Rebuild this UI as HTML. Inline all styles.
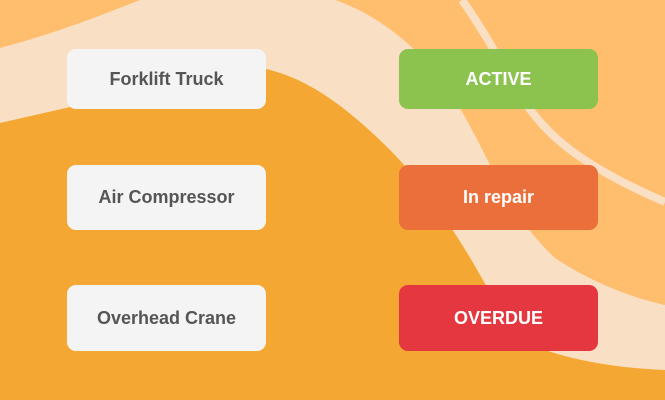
<!DOCTYPE html>
<html><head><style>
body{margin:0;width:665px;height:400px;overflow:hidden;position:relative;font-family:"Liberation Sans",sans-serif}
svg{position:absolute;left:0;top:0}
.b{position:absolute;width:199px;border-radius:9px;display:flex;align-items:center;justify-content:center;font-weight:bold;font-size:18px}
.l{left:67px;background:#f4f4f4;color:#555}
.r{left:399px;color:#fff}
</style></head><body>
<svg width="665" height="400">
<rect width="665" height="400" fill="#f5a733"/>
<path d="M0,0 L665,0 L665,370 C620,368 580,362 545,350 C520,340 500,310 480,275 C455,230 420,180 390,150 C360,120 330,95 298,80 C280,72 265,68 250,66 L0,123 Z" fill="#f9dfc3"/>
<path d="M0,0 L140,0 C100,16 50,35 0,48 Z" fill="#febe6e"/>
<path d="M335,0 L665,0 L665,305 C620,295 580,275 555,258 C530,235 510,205 490,165 C470,125 450,85 420,55 C395,30 365,10 335,0 Z" fill="#febe6e"/>
<path d="M462,0 C480,25 500,60 520,95 C545,135 580,165 665,202" fill="none" stroke="#f9dfc3" stroke-width="8"/>
</svg>
<div class="b l" style="top:49px;height:60px">Forklift Truck</div>
<div class="b l" style="top:165px;height:65px">Air Compressor</div>
<div class="b l" style="top:285px;height:66px">Overhead Crane</div>
<div class="b r" style="top:49px;height:60px;background:#8bc34e">ACTIVE</div>
<div class="b r" style="top:165px;height:65px;background:#eb6f3a">In repair</div>
<div class="b r" style="top:285px;height:66px;background:#e53740">OVERDUE</div>
</body></html>
